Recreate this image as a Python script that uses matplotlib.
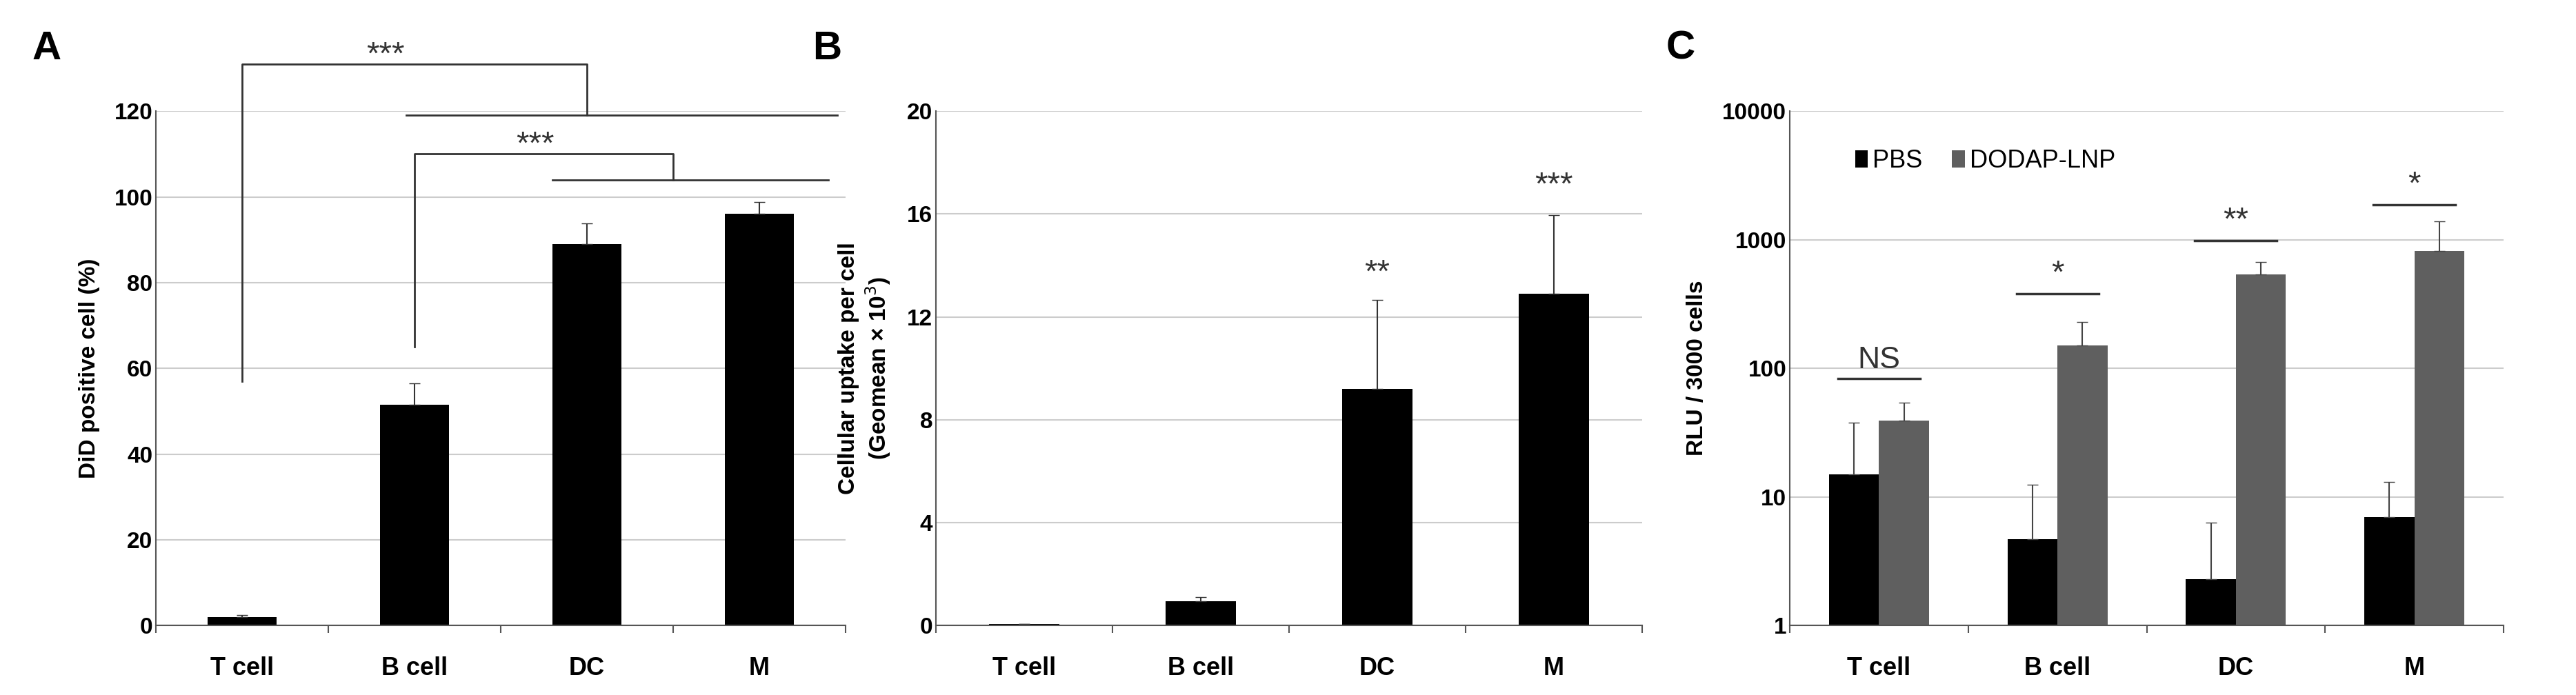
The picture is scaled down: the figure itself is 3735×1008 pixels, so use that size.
import matplotlib
matplotlib.use("Agg")
import matplotlib.pyplot as plt
import numpy as np

plt.rcParams['font.family'] = ['Liberation Sans', 'DejaVu Sans']

cats = ["T cell", "B cell", "DC", "M"]
a_vals = [2.0, 51.5, 89.0, 96.0]
a_err = [0.5, 5.0, 4.8, 2.8]
b_vals = [0.05, 0.95, 9.2, 12.9]
b_err = [0.0, 0.15, 3.45, 3.05]
c_pbs = [15, 4.7, 2.3, 7.0]
c_pbs_err = [23, 7.8, 4.0, 6.0]
c_lnp = [39, 150, 540, 820]
c_lnp_err = [15, 80, 130, 580]

fig = plt.figure(figsize=(37.35, 10.08), dpi=100)
bot, h = 0.10, 0.74
axA = fig.add_axes([226/3735, bot, 1000/3735, h])
axB = fig.add_axes([1357/3735, bot, 1024/3735, h])
axC = fig.add_axes([2595/3735, bot, 1035/3735, h])

def style(ax):
    for s in ['top', 'right']:
        ax.spines[s].set_visible(False)
    ax.spines['left'].set_color('#555555')
    ax.spines['bottom'].set_color('#555555')
    ax.spines['left'].set_linewidth(1.5)
    ax.spines['bottom'].set_linewidth(1.5)
    ax.yaxis.grid(True, color='#cccccc', linewidth=1.5)
    ax.set_axisbelow(True)
    ax.set_xlim(-0.5, 3.5)
    ax.set_xticks(np.arange(-0.5, 4.0, 1.0), minor=False)
    ax.set_xticklabels([])
    ax.tick_params(axis='x', length=8, color='#555555', width=1.5)
    ax.tick_params(axis='y', length=0, labelsize=24)
    for i, c in enumerate(cats):
        ax.text(i, -0.06, c, transform=ax.get_xaxis_transform(), ha='center', va='top',
                fontsize=26, fontweight='bold')
    for t in ax.get_yticklabels():
        t.set_fontweight('bold')

x = np.arange(4)
# Panel A
axA.bar(x, a_vals, width=0.4, color='black', yerr=[[0]*4, a_err], error_kw=dict(ecolor='#333333', capsize=6, lw=1.5))
axA.set_ylim(0, 120)
axA.set_yticks(range(0, 121, 20))
style(axA)
axA.set_ylabel("DiD positive cell (%)", fontsize=24, fontweight='bold', labelpad=15)
kw = dict(color='#333333', lw=2, clip_on=False)
axA.plot([0, 0, 2, 2], [57, 131, 131, 119], **kw)
axA.plot([0.95, 3.45], [119, 119], **kw)
axA.plot([1, 1, 2.5, 2.5], [65, 110, 110, 104], **kw)
axA.plot([1.8, 3.4], [104, 104], **kw)
axA.text(0.83, 129.5, "***", ha='center', va='bottom', fontsize=34, color='#333333')
axA.text(1.7, 108.5, "***", ha='center', va='bottom', fontsize=34, color='#333333')

# Panel B
axB.bar(x, b_vals, width=0.4, color='black', yerr=[[0]*4, b_err], error_kw=dict(ecolor='#333333', capsize=6, lw=1.5))
axB.set_ylim(0, 20)
axB.set_yticks(range(0, 21, 4))
style(axB)
axB.set_ylabel("Cellular uptake per cell\n(Geomean \u00d7 10$^3$)", fontsize=24, fontweight='bold', labelpad=15)
axB.text(2, 13.1, "**", ha='center', va='bottom', fontsize=34, color='#333333')
axB.text(3, 16.5, "***", ha='center', va='bottom', fontsize=34, color='#333333')

# Panel C
w = 0.28
axC.bar(x - w/2, c_pbs, width=w, color='black', label='PBS',
        yerr=[[0]*4, c_pbs_err], error_kw=dict(ecolor='#444444', capsize=6, lw=1.5))
axC.bar(x + w/2, c_lnp, width=w, color='#5f5f5f', label='DODAP-LNP',
        yerr=[[0]*4, c_lnp_err], error_kw=dict(ecolor='#444444', capsize=6, lw=1.5))
axC.set_yscale('log')
axC.set_ylim(1, 10000)
axC.set_yticks([1, 10, 100, 1000, 10000])
axC.set_yticklabels(['1', '10', '100', '1000', '10000'])
axC.minorticks_off()
style(axC)
axC.set_xticks(np.arange(-0.5, 4.0, 1.0))
axC.set_ylabel("RLU / 3000 cells", fontsize=24, fontweight='bold', labelpad=15)
axC.legend(loc='upper left', bbox_to_anchor=(0.06, 0.97), ncol=2, frameon=False, fontsize=26,
           handlelength=0.5, handletextpad=0.2, columnspacing=1.2)
sig = [("NS", 83), ("*", 380), ("**", 980), ("*", 1880)]
for i, (s, yv) in enumerate(sig):
    axC.plot([i - 0.23, i + 0.23], [yv, yv], color='#333333', lw=2.5)
    axC.text(i, yv * 1.08, s, ha='center', va='bottom', fontsize=34 if s != 'NS' else 32,
             color='#333333')

for ax, lab in [(axA, 'A'), (axB, 'B'), (axC, 'C')]:
    fig.text(ax.get_position().x0 - 0.048, 0.93, lab, fontsize=42, fontweight='bold', va='center')

fig.savefig('out.png', dpi=100)
